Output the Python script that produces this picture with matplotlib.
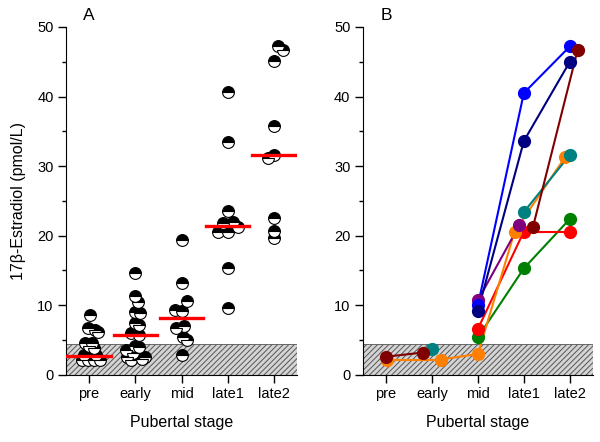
import matplotlib.pyplot as plt
import numpy as np

plt.rcParams['font.family'] = ['Liberation Sans', 'DejaVu Sans']
plt.rcParams['hatch.linewidth'] = 0.7

stages = ["pre", "early", "mid", "late1", "late2"]

# Panel A: individual values per stage, with small horizontal offsets
pre_vals = [8.6, 6.8, 6.4, 6.1, 4.6, 4.6, 4.1, 3.8, 2.9, 2.9, 2.2, 2.2, 2.2, 2.2]
pre_dx = [0.02, -0.02, 0.13, 0.2, -0.09, 0.06, -0.01, 0.1, -0.12, 0.15, -0.16, -0.03, 0.11, 0.24]
early_vals = [14.6, 11.4, 10.5, 9.1, 8.9, 7.4, 7.2, 6.0, 5.7, 4.1, 4.0, 3.5, 3.1, 2.6, 2.5, 2.2, 2.3]
early_dx = [0, 0, 0.06, 0, 0.1, 0, 0.09, -0.09, 0.09, 0, 0.09, -0.2, -0.06, -0.17, 0.2, -0.09, 0.14]
mid_vals = [19.4, 13.2, 10.6, 9.3, 9.2, 7.0, 6.7, 5.5, 5.0, 2.9]
mid_dx = [0, 0, 0.11, -0.15, 0, 0.05, -0.11, 0.03, 0.11, 0]
late1_vals = [40.7, 33.5, 23.5, 22.0, 21.8, 21.3, 20.6, 20.6, 15.3, 9.6]
late1_dx = [0, 0, 0, 0.11, -0.1, 0.22, -0.21, 0, 0, 0]
late2_vals = [47.3, 46.7, 45.1, 35.8, 31.6, 31.1, 22.5, 20.7, 19.6]
late2_dx = [0.09, 0.2, 0, 0, 0, -0.12, 0, 0, 0]
medians = [2.7, 5.7, 8.1, 21.4, 31.6]

# Panel B: longitudinal series (nan = no measurement)
nan = np.nan
blue_y = [nan, nan, 10.0, 40.5, 47.2]
navy_y = [nan, nan, 9.2, 33.6, 45.0]
maroon_y = [2.6, 3.2, nan, 21.3, 46.7]
maroon_dx = [0, -0.2, 0, 0.2, 0.17]
purple_y = [nan, nan, 10.7, 21.5, nan]
purple_dx = [0, 0, 0, -0.1, 0]
teal_y = [nan, 3.7, nan, 23.4, 31.6]
orange_y = [2.2, 2.2, 3.0, 20.6, 31.3]
orange_dx = [0.02, 0.2, 0, -0.2, -0.1]
red_y = [nan, nan, 6.6, 20.6, 20.6]
green_y = [nan, nan, 5.4, 15.3, 22.4]
zero_dx = [0, 0, 0, 0, 0]

ref_upper = 4.4

fig = plt.figure(figsize=(6, 4.42), dpi=100)
axA = fig.add_axes([0.11, 0.152, 0.385, 0.787])
axB = fig.add_axes([0.605, 0.152, 0.383, 0.787])

x = np.arange(1, 6)


def style(ax):
    ax.axhspan(0, ref_upper, facecolor='#d4d4d4', edgecolor='#555555', hatch='//////',
               linewidth=0.6, zorder=0)
    ax.set_xlim(0.5, 5.5)
    ax.set_ylim(0, 50)
    ax.set_xticks(x)
    ax.set_xticklabels(stages)
    ax.set_yticks(np.arange(0, 51, 10))
    ax.set_yticks(np.arange(5, 50, 10), minor=True)
    ax.spines['top'].set_visible(False)
    ax.spines['right'].set_visible(False)
    ax.tick_params(axis='both', which='major', length=6, width=1, labelsize=10.5, pad=3)
    ax.tick_params(axis='y', which='minor', length=3, width=1)
    ax.set_xlabel("Pubertal stage", fontsize=11.5, labelpad=10)


style(axA)
style(axB)

groups = [(pre_vals, pre_dx), (early_vals, early_dx), (mid_vals, mid_dx),
          (late1_vals, late1_dx), (late2_vals, late2_dx)]
for i, (vals, dx) in enumerate(groups):
    xs = x[i] + np.array(dx)
    axA.plot(xs, vals, 'o', ms=8.5, fillstyle='top', markerfacecolor='black',
             markerfacecoloralt='white', markeredgecolor='black', markeredgewidth=0.8,
             zorder=3)
    axA.plot([x[i] - 0.47, x[i] + 0.47], [medians[i], medians[i]], color='#ff0000',
             lw=2.4, zorder=4)

axA.set_ylabel("17β-Estradiol (pmol/L)", fontsize=11.5, labelpad=8)
axA.text(0.075, 1.01, "A", transform=axA.transAxes, fontsize=12.5, va='bottom')
axB.text(0.075, 1.01, "B", transform=axB.transAxes, fontsize=12.5, va='bottom')

series = [
    (green_y, zero_dx, '#008000'),
    (red_y, zero_dx, '#ff0000'),
    (orange_y, orange_dx, '#ff8000'),
    (teal_y, zero_dx, '#008080'),
    (purple_y, purple_dx, '#800080'),
    (blue_y, zero_dx, '#0000ff'),
    (navy_y, zero_dx, '#000080'),
    (maroon_y, maroon_dx, '#800000'),
]
for ys, dx, col in series:
    xs = x + np.array(dx)
    ys = np.array(ys)
    # connect consecutive measured points only
    for j in range(4):
        if not np.isnan(ys[j]) and not np.isnan(ys[j + 1]):
            axB.plot(xs[j:j + 2], ys[j:j + 2], '-', color=col, lw=1.5, zorder=2)
    axB.plot(xs, ys, 'o', color=col, ms=8.5, zorder=3)

fig.savefig("out.png", dpi=100)
